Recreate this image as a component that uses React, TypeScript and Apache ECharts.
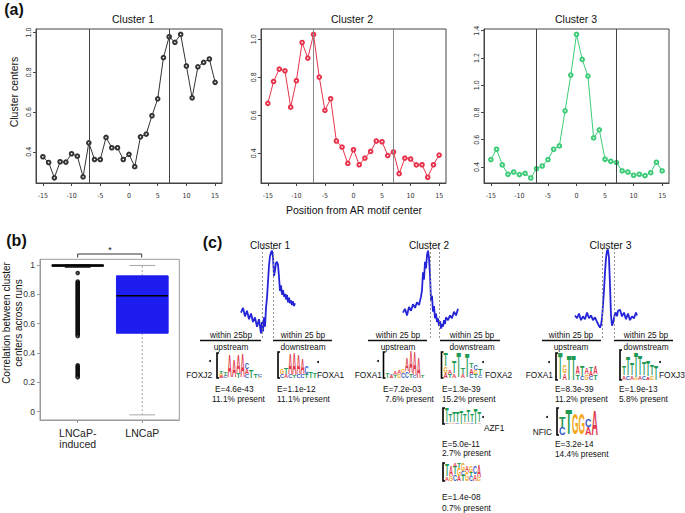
import React, { useEffect, useRef } from 'react';
import * as echarts from 'echarts';

// ---------- Panel (a): cluster centers ----------
const positions = [-15, -14, -13, -12, -11, -10, -9, -8, -7, -6, -5, -4, -3, -2, -1, 0, 1, 2, 3, 4, 5, 6, 7, 8, 9, 10, 11, 12, 13, 14, 15];
const cluster1 = [0.375, 0.346, 0.269, 0.35, 0.348, 0.39, 0.378, 0.274, 0.445, 0.361, 0.361, 0.472, 0.42, 0.42, 0.361, 0.387, 0.325, 0.475, 0.489, 0.581, 0.666, 0.873, 0.978, 0.95, 0.99, 0.831, 0.671, 0.827, 0.849, 0.866, 0.749];
const cluster2 = [0.663, 0.778, 0.843, 0.834, 0.643, 0.782, 0.983, 0.901, 1.025, 0.801, 0.626, 0.687, 0.465, 0.433, 0.347, 0.419, 0.34, 0.375, 0.41, 0.465, 0.461, 0.388, 0.407, 0.293, 0.375, 0.37, 0.339, 0.34, 0.274, 0.34, 0.391];
const cluster3 = [0.454, 0.53, 0.415, 0.346, 0.363, 0.344, 0.353, 0.319, 0.388, 0.407, 0.454, 0.53, 0.554, 0.812, 1.074, 1.373, 1.189, 1.067, 0.613, 0.672, 0.456, 0.442, 0.432, 0.371, 0.363, 0.339, 0.346, 0.336, 0.358, 0.434, 0.371];
const positionTicks = [-15, -10, -5, 0, 5, 10, 15];
const c1Ticks = [0.4, 0.6, 0.8, 1.0];
const c2Ticks = [0.4, 0.6, 0.8, 1.0];
const c3Ticks = [0.4, 0.6, 0.8, 1.0, 1.2, 1.4];
const boundaries = [-7, 7];

// ---------- Panel (b): boxplot ----------
const boxCategories = ['LNCaP-\ninduced', 'LNCaP'];
// [lower whisker, Q1, median, Q3, upper whisker]
const boxInduced = [0.985, 0.993, 0.997, 0.999, 1.0];
const boxLNCaP = [-0.022, 0.535, 0.79, 0.926, 0.997];
const outliersInduced = [0.945, 0.887, 0.879, 0.871, 0.862, 0.854, 0.846, 0.837, 0.829, 0.82, 0.812, 0.803, 0.795, 0.786, 0.778, 0.77, 0.761, 0.753, 0.744, 0.736, 0.727, 0.719, 0.71, 0.702, 0.693, 0.685, 0.677, 0.668, 0.66, 0.651, 0.643, 0.634, 0.626, 0.617, 0.609, 0.6, 0.592, 0.583, 0.575, 0.566, 0.558, 0.549, 0.541, 0.532, 0.524, 0.515, 0.316, 0.307, 0.298, 0.289, 0.28, 0.27, 0.261, 0.252, 0.243, 0.234];
const corrTicks = [0, 0.2, 0.4, 0.6, 0.8, 1];

// ---------- Panel (c): aggregate profiles ----------
const prof1X = [0, 2, 4, 6, 8, 10, 12, 14, 16, 18, 20, 21, 22, 23, 24, 25, 26, 27, 28, 29, 30, 31, 32, 33, 34, 35, 36, 37, 38, 39, 40, 41, 42, 43, 44, 45, 46, 47, 48, 49, 50, 51, 52, 53, 54];
const prof1Y = [0.27, 0.32, 0.23, 0.29, 0.20, 0.26, 0.17, 0.22, 0.12, 0.20, 0.05, 0.17, 0.07, 0.22, 0.12, 0.32, 0.43, 0.60, 0.77, 0.87, 0.91, 0.93, 0.86, 0.66, 0.72, 0.80, 0.81, 0.78, 0.65, 0.50, 0.56, 0.46, 0.51, 0.44, 0.47, 0.41, 0.46, 0.38, 0.43, 0.37, 0.40, 0.35, 0.39, 0.34, 0.37];
const prof2X = [0, 2, 4, 6, 8, 10, 12, 14, 16, 18, 19, 20, 21, 22, 23, 24, 25, 26, 27, 28, 29, 30, 31, 32, 33, 34, 35, 36, 37, 38, 39, 40, 41, 42, 43, 45, 47, 49, 51, 53, 55];
const prof2Y = [0.27, 0.31, 0.24, 0.33, 0.29, 0.36, 0.32, 0.38, 0.35, 0.44, 0.51, 0.70, 0.62, 0.81, 0.74, 0.88, 0.93, 0.85, 0.67, 0.40, 0.45, 0.28, 0.34, 0.21, 0.26, 0.17, 0.21, 0.13, 0.18, 0.10, 0.15, 0.12, 0.19, 0.15, 0.22, 0.19, 0.24, 0.21, 0.28, 0.24, 0.31];
const prof3X = [0, 2, 4, 6, 8, 10, 12, 14, 16, 18, 20, 22, 24, 25, 26, 27, 28, 29, 30, 31, 32, 33, 34, 35, 36, 37, 38, 39, 40, 41, 42, 43, 45, 47, 49, 51, 53, 55, 57, 59, 61, 62];
const prof3Y = [0.24, 0.21, 0.26, 0.19, 0.23, 0.20, 0.27, 0.21, 0.24, 0.19, 0.22, 0.17, 0.13, 0.11, 0.14, 0.21, 0.35, 0.51, 0.70, 0.85, 0.93, 0.94, 0.85, 0.56, 0.24, 0.13, 0.16, 0.21, 0.26, 0.27, 0.23, 0.29, 0.30, 0.23, 0.27, 0.20, 0.26, 0.19, 0.23, 0.21, 0.27, 0.24];
const prof1Window = [21, 32];
const prof2Window = [27, 36];
const prof3Window = [27, 39];

// ---------- Motif logos (columns bottom -> top, [base, bits]) ----------
type Col = [string, number][];
const logoFOXJ2: Col[] = [[['A', 0.15], ['G', 0.2], ['T', 0.25]], [['C', 0.2], ['T', 0.35]], [['A', 1.8]], [['A', 1.4]], [['T', 0.4], ['A', 1.5]], [['A', 1.9]], [['C', 0.3], ['A', 0.4], ['C', 0.5]], [['T', 0.6]], [['T', 0.3]], [['G', 0.1], ['C', 0.15]]];
const logoFOXA1dn: Col[] = [[['C', 0.3], ['G', 0.4]], [['A', 0.3], ['T', 0.5]], [['C', 0.3], ['A', 1.6]], [['T', 0.2], ['A', 1.7]], [['C', 0.3], ['A', 1.5]], [['C', 0.3], ['A', 1.2]], [['T', 0.3], ['C', 0.6]], [['T', 0.5]], [['T', 0.4]]];
const logoFOXA1up2: Col[] = [[['T', 0.4]], [['A', 0.2], ['C', 0.1]], [['T', 0.2], ['A', 0.3]], [['G', 0.3], ['A', 0.3]], [['C', 0.4], ['G', 0.3]], [['C', 0.5], ['A', 1.0]], [['T', 0.3], ['A', 1.7]], [['C', 0.2], ['A', 1.8]], [['A', 1.6]], [['T', 0.2]]];
const logoFOXA2: Col[] = [[['A', 0.4], ['G', 0.5], ['T', 1.0]], [['T', 0.3], ['A', 0.3]], [['A', 0.3], ['T', 0.9]], [['T', 1.9]], [['A', 0.3], ['T', 0.5]], [['T', 1.8]], [['C', 0.3], ['A', 0.4], ['T', 0.4]], [['T', 0.3], ['G', 0.3], ['C', 0.4]], [['C', 0.2], ['T', 0.5]]];
const logoAZF1: Col[] = [[['C', 0.2], ['T', 1.6]], [['G', 0.2], ['T', 0.8]], [['A', 0.2], ['T', 1.2]], [['C', 0.2], ['T', 1.1]], [['T', 1.5]], [['G', 0.2], ['T', 0.9]], [['A', 0.2], ['T', 1.3]], [['C', 0.2], ['T', 0.9]], [['T', 1.7]], [['A', 0.2], ['T', 1.2]]];
const logoThird: Col[] = [[['A', 0.3], ['T', 0.9]], [['G', 0.4], ['A', 0.8]], [['C', 0.5], ['T', 0.6], ['A', 0.3]], [['A', 0.4], ['G', 0.6], ['T', 0.4]], [['T', 0.5], ['C', 0.3], ['G', 0.6]], [['G', 0.7], ['A', 0.5]], [['C', 0.4], ['T', 0.3], ['G', 0.5]], [['A', 0.5], ['C', 0.6]], [['G', 0.3], ['A', 0.9]]];
const logoFOXA1up3: Col[] = [[['T', 2.0]], [['A', 0.5], ['G', 0.6]], [['T', 1.9]], [['T', 1.9]], [['T', 0.4], ['A', 0.6]], [['C', 0.3], ['T', 0.8]], [['G', 0.4], ['A', 0.5]], [['C', 0.3], ['A', 0.4], ['T', 0.3]], [['T', 0.4], ['A', 0.6]]];
const logoNFIC: Col[] = [[['C', 0.6], ['T', 0.8]], [['T', 1.9]], [['G', 1.6]], [['G', 1.6]], [['A', 0.6], ['C', 0.6]], [['A', 1.9]]];
const logoFOXJ3: Col[] = [[['A', 0.3], ['T', 0.6]], [['C', 0.3], ['T', 1.2]], [['A', 0.3], ['T', 0.8]], [['G', 0.2], ['T', 1.7]], [['A', 0.3], ['T', 1.3]], [['C', 0.3], ['T', 0.9]], [['A', 0.2], ['T', 1.1]], [['G', 0.3], ['T', 0.7]], [['T', 1.0]]];

const FONT = '"Liberation Sans", Arial, Helvetica, sans-serif';
const NARROW = '"Liberation Sans Narrow", "DejaVu Sans Condensed", "Liberation Sans", sans-serif';
const letterColor: Record<string, string> = { A: '#E0394B', C: '#2F5BC4', G: '#F2A619', T: '#1E9A55' };
const letterWidth: Record<string, number> = { A: 0.722, C: 0.722, G: 0.778, T: 0.611 };

function txt(x: number, y: number, t: string, size: number, o: any = {}) {
  const align = o.align || 'center';
  return {
    type: 'text', x, y, rotation: o.rotation || 0, z: 10,
    style: {
      text: t, fill: o.color || '#111',
      font: `${o.bold ? 'bold ' : ''}${size}px ${FONT}`,
      textAlign: align, textVerticalAlign: 'middle', align, verticalAlign: 'middle',
    },
  };
}

function hline(x1: number, x2: number, y: number, w = 1.3) {
  return { type: 'line', shape: { x1, y1: y, x2, y2: y }, style: { stroke: '#111', lineWidth: w }, z: 10 };
}

function dot(x: number, y: number) {
  return { type: 'circle', shape: { cx: x, cy: y, r: 1 }, style: { fill: '#111' }, z: 10 };
}

function logoEls(cols: Col[], x0: number, yB: number, colW: number, ppb: number, bh: number) {
  const els: any[] = [];
  els.push({ type: 'polyline', shape: { points: [[x0 + 2, yB - bh], [x0, yB - bh], [x0, yB], [x0 + 2, yB]] }, style: { stroke: '#000', lineWidth: 1.6, fill: 'none' }, z: 10 });
  const F = 20;
  cols.forEach((col, i) => {
    let y = yB;
    const cx = x0 + 2 + colW * (i + 0.5);
    col.forEach(([L, bits]) => {
      const h = bits * ppb;
      els.push({
        type: 'text', x: cx, y: y - h / 2, z: 10,
        scaleX: (colW * 1.0) / (letterWidth[L] * F), scaleY: h / (0.72 * F),
        style: { text: L, fill: letterColor[L], font: `bold ${F}px ${FONT}`, textAlign: 'center', textVerticalAlign: 'middle', align: 'center', verticalAlign: 'middle' },
      });
      y -= h;
    });
  });
  return els;
}

function buildOption() {
  const clusters = [cluster1, cluster2, cluster3];
  const yRanges = [[0.243, 1.017], [0.244, 1.054], [0.282, 1.4125]];
  const yTicks = [c1Ticks, c2Ticks, c3Ticks];
  const colors = ['#333333', '#E8334C', '#3DCB78'];
  const vColors = ['#444', '#888', '#444'];
  const aGrids = [
    { left: 36, top: 29, width: 186, height: 154 },
    { left: 261, top: 29, width: 185, height: 154 },
    { left: 484, top: 29, width: 185, height: 154 },
  ];
  const grid: any[] = aGrids.map((g) => ({ ...g, show: true, borderColor: '#444', borderWidth: 1, backgroundColor: 'transparent' }));
  grid.push({ left: 40, top: 259.3, width: 139.3, height: 160.7, show: true, borderColor: '#9a9a9a', borderWidth: 1, backgroundColor: 'transparent' });
  grid.push({ left: 241, top: 244, width: 54, height: 94 });
  grid.push({ left: 403, top: 244, width: 55, height: 94 });
  grid.push({ left: 575, top: 244, width: 62, height: 94 });

  const xAxis: any[] = [];
  const yAxis: any[] = [];
  const series: any[] = [];

  for (let i = 0; i < 3; i++) {
    xAxis.push({
      type: 'value', gridIndex: i, min: -16.2, max: 16.2,
      axisLine: { show: true, onZero: false, lineStyle: { color: '#444', width: 1 } },
      splitLine: { show: false },
      axisTick: { show: true, customValues: positionTicks, length: 3, lineStyle: { color: '#444' } },
      axisLabel: { customValues: positionTicks, fontSize: 7, fontFamily: NARROW, color: '#333', margin: 9 },
    });
    yAxis.push({
      type: 'value', gridIndex: i, min: yRanges[i][0], max: yRanges[i][1],
      axisLine: { show: true, onZero: false, lineStyle: { color: '#444', width: 1 } },
      splitLine: { show: false },
      axisTick: { show: true, customValues: yTicks[i], length: 3, lineStyle: { color: '#444' } },
      axisLabel: { customValues: yTicks[i], rotate: 90, fontSize: 7, fontFamily: NARROW, color: '#333', margin: 4, formatter: (v: number) => v.toFixed(1) },
    });
    series.push({
      type: 'line', xAxisIndex: i, yAxisIndex: i,
      data: positions.map((p, k) => [p, clusters[i][k]]),
      symbol: 'emptyCircle', symbolSize: 3.6,
      lineStyle: { color: colors[i], width: 1 },
      itemStyle: { color: colors[i], borderWidth: 0.9 },
      markLine: {
        silent: true, symbol: ['none', 'none'], label: { show: false },
        lineStyle: { color: vColors[i], type: 'solid', width: 1 },
        data: boundaries.map((b) => ({ xAxis: b })),
      },
    });
  }

  // Panel (b)
  xAxis.push({
    type: 'value', gridIndex: 3, min: 0.416, max: 2.573,
    axisLine: { show: true, onZero: false, lineStyle: { color: '#9a9a9a' } },
    splitLine: { show: false },
    axisTick: { show: true, customValues: [1, 2], length: 3, lineStyle: { color: '#9a9a9a' } },
    axisLabel: { customValues: [1, 2], formatter: (v: number) => boxCategories[Math.round(v) - 1], fontSize: 10.5, lineHeight: 11.5, fontFamily: FONT, color: '#222', margin: 7 },
  });
  yAxis.push({
    type: 'value', gridIndex: 3, min: -0.057, max: 1.039,
    axisLine: { show: true, onZero: false, lineStyle: { color: '#9a9a9a' } },
    splitLine: { show: false },
    axisTick: { show: true, customValues: corrTicks, length: 3, lineStyle: { color: '#9a9a9a' } },
    axisLabel: { customValues: corrTicks, formatter: (v: number) => String(v), fontSize: 8.5, fontFamily: FONT, color: '#333', margin: 5 },
  });
  const boxFill = ['none', '#1D1DF0'];
  const boxStroke = ['#000', '#1D1DF0'];
  const whiskerColor = ['#000', '#a8a8a8'];
  const medianW = [2.5, 1.5];
  series.push({
    type: 'custom', xAxisIndex: 3, yAxisIndex: 3, clip: false,
    data: [boxInduced, boxLNCaP].map((s, i) => [i + 1, ...s]),
    encode: { x: 0, y: [1, 2, 3, 4, 5] },
    renderItem: (params: any, api: any) => {
      const idx = params.dataIndex;
      const x = api.value(0);
      const pLo = api.coord([x, api.value(1)]);
      const pQ1 = api.coord([x, api.value(2)]);
      const pMed = api.coord([x, api.value(3)]);
      const pQ3 = api.coord([x, api.value(4)]);
      const pHi = api.coord([x, api.value(5)]);
      const hb = api.size([0.4, 0])[0];
      const hc = api.size([0.2, 0])[0];
      const cx = pMed[0];
      const wc = whiskerColor[idx];
      return {
        type: 'group',
        children: [
          { type: 'line', shape: { x1: cx, y1: pQ3[1], x2: cx, y2: pHi[1] }, style: { stroke: wc, lineWidth: 1, lineDash: [2, 2] } },
          { type: 'line', shape: { x1: cx, y1: pQ1[1], x2: cx, y2: pLo[1] }, style: { stroke: wc, lineWidth: 1, lineDash: [2, 2] } },
          { type: 'line', shape: { x1: cx - hc, y1: pHi[1], x2: cx + hc, y2: pHi[1] }, style: { stroke: wc, lineWidth: 1 } },
          { type: 'line', shape: { x1: cx - hc, y1: pLo[1], x2: cx + hc, y2: pLo[1] }, style: { stroke: wc, lineWidth: 1 } },
          { type: 'rect', shape: { x: cx - hb, y: pQ3[1], width: 2 * hb, height: pQ1[1] - pQ3[1] }, style: { fill: boxFill[idx], stroke: boxStroke[idx], lineWidth: 1 } },
          { type: 'line', shape: { x1: cx - hb, y1: pMed[1], x2: cx + hb, y2: pMed[1] }, style: { stroke: '#000', lineWidth: medianW[idx] } },
        ],
      };
    },
  });
  series.push({
    type: 'scatter', xAxisIndex: 3, yAxisIndex: 3,
    data: outliersInduced.map((v) => [1, v]),
    symbol: 'emptyCircle', symbolSize: 2.6,
    itemStyle: { color: '#000', borderColor: '#000', borderWidth: 0.8 },
  });

  // Panel (c) profiles
  const profs = [[prof1X, prof1Y, prof1Window, 54], [prof2X, prof2Y, prof2Window, 55], [prof3X, prof3Y, prof3Window, 62]] as any[];
  profs.forEach(([px, py, win, maxX], j) => {
    const gi = 4 + j;
    xAxis.push({ type: 'value', gridIndex: gi, min: 0, max: maxX, show: false });
    yAxis.push({ type: 'value', gridIndex: gi, min: 0, max: 1, show: false });
    series.push({
      type: 'line', xAxisIndex: gi, yAxisIndex: gi,
      data: px.map((x: number, k: number) => [x, py[k]]),
      showSymbol: false, symbol: 'none',
      lineStyle: { color: '#2525D8', width: 1.8 },
      markLine: {
        silent: true, symbol: ['none', 'none'], label: { show: false },
        lineStyle: { color: '#888', type: [2, 2], width: 0.9 },
        data: win.map((w: number) => ({ xAxis: w })),
      },
    });
  });

  const graphic: any[] = [
    txt(14, 9, '(a)', 16, { bold: true }),
    txt(16.5, 240, '(b)', 16, { bold: true }),
    txt(212.5, 242.5, '(c)', 16, { bold: true }),
    txt(133, 19, 'Cluster 1', 10.5),
    txt(352, 19, 'Cluster 2', 10.5),
    txt(576, 19, 'Cluster 3', 10.5),
    txt(14, 92, 'Cluster centers', 10.5, { rotation: Math.PI / 2 }),
    txt(354, 210, 'Position from AR motif center', 10.5),
    txt(6.5, 323, 'Correlation between cluster', 10, { rotation: Math.PI / 2 }),
    txt(18, 323, 'centers across runs', 10, { rotation: Math.PI / 2 }),
    { type: 'polyline', shape: { points: [[77.7, 257.5], [77.7, 254], [141.7, 254], [141.7, 257.5]] }, style: { stroke: '#333', lineWidth: 1, fill: 'none' }, z: 10 },
    txt(110, 250, '*', 9),
    // panel (c) titles
    txt(270, 245, 'Cluster 1', 10),
    txt(429, 245, 'Cluster 2', 10),
    txt(610.5, 245, 'Cluster 3', 10.5),
  ];
  const S = 8.3;
  const heads: [number, number, number, string, string][] = [
    [231, 200, 261, 'within 25bp', 'upstream'],
    [303, 273, 332, 'within 25 bp', 'downstream'],
    [398, 368, 427, 'within 25 bp', 'upstream'],
    [472, 440, 500, 'within 25 bp', 'downstream'],
    [571, 542, 601, 'within 25 bp', 'upstream'],
    [646, 614, 673, 'within 25 bp', 'downstream'],
  ];
  heads.forEach(([cx, a, b, t1, t2]) => {
    graphic.push(txt(cx, 334.5, t1, S), txt(cx, 346.5, t2, S), hline(a, b, 340.5));
  });
  const L = { align: 'left' };
  const R = { align: 'right' };
  graphic.push(
    // Cluster 1 upstream
    ...logoEls(logoFOXJ2, 217, 378, 4.3, 12.5, 25), dot(210, 361), txt(212, 375, 'FOXJ2', S, R),
    txt(215, 389, 'E=4.6e-43', S, L), txt(212, 399, '11.1% present', S, L),
    // Cluster 1 downstream
    ...logoEls(logoFOXA1dn, 278, 378, 4.1, 13, 26), dot(318, 362), txt(317, 375, 'FOXA1', S, L),
    txt(277, 389, 'E=1.1e-12', S, L), txt(277, 399, '11.1% present', S, L),
    // Cluster 2 upstream
    ...logoEls(logoFOXA1up2, 383.5, 378, 3.9, 13, 26), dot(378, 361), txt(382, 375, 'FOXA1', S, R),
    txt(383, 389, 'E=7.2e-03', S, L), txt(385, 399, '7.6% present', S, L),
    // Cluster 2 downstream
    ...logoEls(logoFOXA2, 441.5, 378, 4.3, 13, 26), dot(483, 362), txt(485, 375, 'FOXA2', S, L),
    txt(442, 389, 'E=1.3e-39', S, L), txt(442, 399, '15.2% present', S, L),
    ...logoEls(logoAZF1, 443, 424, 3.6, 9, 16), dot(483, 417), txt(484, 428, 'AZF1', S, L),
    txt(442, 443.5, 'E=5.0e-11', S, L), txt(442, 452.5, '2.7% present', S, L),
    ...logoEls(logoThird, 443, 481, 4, 13, 18),
    txt(442, 496.5, 'E=1.4e-08', S, L), txt(442, 507.5, '0.7% present', S, L),
    // Cluster 3 upstream
    ...logoEls(logoFOXA1up3, 556, 380, 4.4, 13.5, 27), dot(549, 362), txt(553, 375, 'FOXA1', S, R),
    txt(555, 389, 'E=8.3e-39', S, L), txt(555, 399, '11.2% present', S, L),
    ...logoEls(logoNFIC, 557, 435, 6.5, 13.5, 27), dot(547, 417), txt(552, 432, 'NFIC', S, R),
    txt(555, 444, 'E=3.2e-14', S, L), txt(555, 454, '14.4% present', S, L),
    // Cluster 3 downstream
    ...logoEls(logoFOXJ3, 620, 380, 4, 15, 30), dot(660, 362), txt(659, 375, 'FOXJ3', S, L),
    txt(619, 389, 'E=1.9e-13', S, L), txt(619, 399, '5.8% present', S, L),
  );

  return {
    animation: false,
    backgroundColor: '#ffffff',
    textStyle: { fontFamily: FONT },
    grid, xAxis, yAxis, series, graphic,
  };
}

export default function App() {
  const ref = useRef<HTMLDivElement>(null);
  useEffect(() => {
    if (!ref.current) return;
    const chart = echarts.init(ref.current, null, { renderer: 'svg' });
    chart.setOption(buildOption() as any);
    return () => chart.dispose();
  }, []);
  return <div ref={ref} style={{ position: 'fixed', left: 0, top: 0, width: 685, height: 513, background: '#fff' }} />;
}
